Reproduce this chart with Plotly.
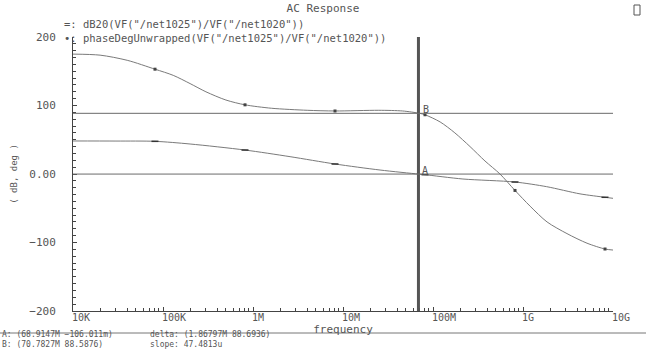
import math
import plotly.graph_objects as go

# AC sweep results: gain (dB20) and unwrapped phase (deg) of net1025/net1020
freq_db = [1e4, 3e4, 8.15e4, 2e5, 8.15e5, 2.58e6, 8.15e6, 2.58e7, 6.89e7, 8.15e7,
           2.15e8, 8.15e8, 1.83e9, 4.3e9, 8.15e9, 1e10]
gain_db = [48.2, 48.1, 47.7, 43.8, 35.0, 25.3, 14.6, 5.8, -0.1, -1.0,
           -7.3, -11.7, -18.5, -29.0, -34.0, -35.5]

freq_ph = [1e4, 2e4, 4e4, 8.15e4, 1.3e5, 2e5, 3e5, 5e5, 8.15e5, 1.6e6, 4e6, 8.15e6,
           2.5e7, 4.6e7, 7.08e7, 8.15e7, 1.2e8, 1.75e8, 2.58e8, 3.78e8, 5.55e8, 8.15e8,
           1.2e9, 1.85e9, 3.08e9, 5.14e9, 8.15e9, 1e10]
phase_deg = [175, 173.5, 166, 153, 144, 132, 120, 108, 101, 96, 93, 92,
             93, 92, 88.6, 86.5, 76, 60, 40, 19, 0, -24,
             -47, -70, -87, -101, -109.5, -111]

# frequencies that carry the trace symbols
marker_freqs = [8.15e4, 8.15e5, 8.15e6, 8.15e7, 8.15e8, 8.15e9]

# cursors A and B
cursor_a = (68.9147e6, -0.106011)
cursor_b = (70.7827e6, 88.5876)

x_tick_vals = [1e4, 1e5, 1e6, 1e7, 1e8, 1e9, 1e10]
x_tick_text = ["10K", "100K", "1M", "10M", "100M", "1G", "10G"]
y_tick_vals = [-200, -100, 0, 100, 200]
y_tick_text = ["\u2212200", "\u2212100", "0.00", "100", "200"]

legend_lines = ['=: dB20(VF("/net1025")/VF("/net1020"))',
                '\u2022: phaseDegUnwrapped(VF("/net1025")/VF("/net1020"))']
readout_left = ["A: (68.9147M \u2212106.011m)", "B: (70.7827M 88.5876)"]
readout_right = ["delta: (1.86797M 88.6936)", "slope: 47.4813u"]

FONT = "DejaVu Sans Mono"
TXT = "#555555"
CURVE = "#7a7a7a"

# plot area in pixels: x 73..613, y 37..311
PX_L, PX_W, PX_B, PX_H = 73, 540, 311, 274


def px_x(px):
    return (px - PX_L) / PX_W


def px_y(py):
    return (PX_B - py) / PX_H


fig = go.Figure()

fig.add_trace(go.Scatter(x=freq_db, y=gain_db, mode="lines",
                         line=dict(color=CURVE, width=1, shape="spline", smoothing=0.8)))
fig.add_trace(go.Scatter(x=freq_ph, y=phase_deg, mode="lines",
                         line=dict(color=CURVE, width=1, shape="spline", smoothing=0.8)))

db_idx = [freq_db.index(f) for f in marker_freqs if f in freq_db]
ph_idx = [freq_ph.index(f) for f in marker_freqs if f in freq_ph]
fig.add_trace(go.Scatter(x=[freq_db[i] for i in db_idx], y=[gain_db[i] for i in db_idx],
                         mode="markers",
                         marker=dict(symbol="line-ew", size=5, line=dict(color="#333", width=1.5))))
fig.add_trace(go.Scatter(x=[freq_ph[i] for i in ph_idx], y=[phase_deg[i] for i in ph_idx],
                         mode="markers",
                         marker=dict(symbol="square", size=3, color="#444")))

# cursor lines
fig.add_shape(type="line", xref="x", yref="paper", x0=cursor_a[0], x1=cursor_a[0],
              y0=0, y1=1, line=dict(color="#555", width=3))
for yv in (cursor_a[1], cursor_b[1]):
    fig.add_shape(type="line", xref="paper", yref="y", x0=0, x1=1, y0=yv, y1=yv,
                  line=dict(color="#6a6a6a", width=1))
for label, (cx, cy) in (("A", cursor_a), ("B", cursor_b)):
    fig.add_annotation(x=math.log10(cx), y=cy, xref="x", yref="y", text=label,
                       showarrow=False, xanchor="left", yanchor="middle", xshift=2, yshift=4,
                       font=dict(family=FONT, size=10, color=TXT))

# x tick labels, left-aligned at their decade
for v, t in zip(x_tick_vals, x_tick_text):
    fig.add_annotation(x=math.log10(v), y=0, xref="x", yref="paper", text=t, showarrow=False,
                       xanchor="left", yanchor="top", xshift=-3, yshift=1,
                       font=dict(family=FONT, size=10, color=TXT))

fig.update_layout(
    width=646, height=351,
    margin=dict(l=73, r=33, t=37, b=40),
    paper_bgcolor="white", plot_bgcolor="white",
    showlegend=False,
    font=dict(family=FONT, size=11, color=TXT),
    title=dict(text="AC Response", x=0.5, xref="container", xanchor="center",
               y=1 - 8.5 / 351, yref="container", yanchor="middle",
               font=dict(family=FONT, size=11, color=TXT)),
    xaxis=dict(type="log", range=[4, 10], showgrid=False, zeroline=False,
               showline=True, linecolor="#444", linewidth=1,
               ticks="inside", ticklen=4, tickcolor="#444", dtick=1,
               showticklabels=False,
               minor=dict(ticks="inside", ticklen=3, tickcolor="#444", dtick="D1"),
               title=dict(text="frequency", standoff=14,
                          font=dict(family=FONT, size=11, color=TXT))),
    yaxis=dict(range=[-200, 200], showgrid=False, zeroline=False,
               showline=True, linecolor="#444", linewidth=1,
               ticks="inside", ticklen=4, tickcolor="#444",
               tickvals=y_tick_vals, ticktext=y_tick_text, ticklabelstandoff=14,
               tickfont=dict(family=FONT, size=11, color=TXT),
               minor=dict(ticks="inside", ticklen=3, tickcolor="#444", dtick=10),
               title=dict(text="( dB, deg )", standoff=10,
                          font=dict(family=FONT, size=9, color=TXT))),
)

# trace legend above the plot
fig.add_annotation(x=px_x(62), y=px_y(30.5), xref="paper", yref="paper",
                   text="<br>".join(legend_lines), align="left",
                   showarrow=False, xanchor="left", yanchor="middle",
                   font=dict(family=FONT, size=10.5, color=TXT))

# divider and cursor readout below the axis
fig.add_shape(type="line", xref="paper", yref="paper", x0=px_x(0), x1=px_x(646),
              y0=px_y(333), y1=px_y(333), line=dict(color="#777", width=1))
for lines, px in ((readout_left, 0), (readout_right, 148)):
    fig.add_annotation(x=px_x(px), y=px_y(350.5), xref="paper", yref="paper",
                       text="<br>".join(lines), align="left",
                       showarrow=False, xanchor="left", yanchor="bottom",
                       font=dict(family=FONT, size=8, color=TXT))

# window icon at top right
fig.add_shape(type="rect", xref="paper", yref="paper", x0=px_x(634), x1=px_x(640),
              y0=px_y(15), y1=px_y(5), line=dict(color="#555", width=1))

fig.write_html("out.html")
